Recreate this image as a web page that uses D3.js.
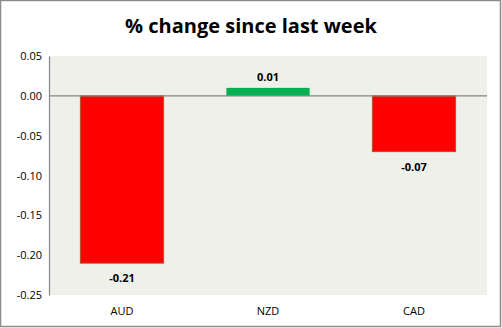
<!DOCTYPE html>
<html>
<head>
<meta charset="utf-8">
<script src="https://cdn.jsdelivr.net/npm/d3@7/dist/d3.min.js"></script>
<style>
  html, body { margin: 0; padding: 0; background: #fff; }
  svg { display: block; }
  text { font-family: "Open Sans", "Noto Sans", sans-serif; fill: #000; }
</style>
</head>
<body>
<svg id="chart" width="502" height="328"></svg>
<script>
// Weekly change per currency
const categories = ["AUD", "NZD", "CAD"];
const values = [-0.21, 0.01, -0.07];
const valueLabels = ["-0.21", "0.01", "-0.07"];
const yTicks = [0.05, 0, -0.05, -0.10, -0.15, -0.20, -0.25];
const title = "% change since last week";

const W = 502, H = 328;
const plot = { left: 49, right: 487, top: 56, bottom: 295 };

const svg = d3.select("#chart");

// outer frame
svg.append("rect")
  .attr("x", 0.5).attr("y", 0.5)
  .attr("width", W - 2).attr("height", H - 2)
  .attr("fill", "#fff").attr("stroke", "#8c8c8c").attr("stroke-width", 1.5);

// title
svg.append("text")
  .attr("x", 251).attr("y", 33)
  .attr("text-anchor", "middle")
  .attr("font-size", 20).attr("font-weight", "bold")
  .text(title);

const x = d3.scaleBand()
  .domain(categories)
  .range([plot.left, plot.right])
  .paddingInner(0.43)
  .paddingOuter(0.215);

const y = d3.scaleLinear()
  .domain([-0.25, 0.05])
  .range([plot.bottom, plot.top]);

// plot area background
svg.append("rect")
  .attr("x", plot.left).attr("y", plot.top)
  .attr("width", plot.right - plot.left).attr("height", plot.bottom - plot.top)
  .attr("fill", "#eef0e9");

// y axis
const yAxis = d3.axisLeft(y)
  .tickValues(yTicks)
  .tickFormat(d3.format(".2f"))
  .tickSize(0)
  .tickPadding(7);

const gy = svg.append("g")
  .attr("transform", `translate(${plot.left},0)`)
  .call(yAxis);
gy.select(".domain").attr("stroke", "#868686").attr("stroke-width", 1.2);
gy.selectAll("text")
  .attr("font-size", 11)
  .attr("font-family", "\"Open Sans\", sans-serif")
  .attr("fill", "#000")
  .text(d => d3.format(".2f")(d).replace("−", "-"));

// bars
svg.append("g").selectAll("rect")
  .data(values)
  .join("rect")
  .attr("x", (d, i) => x(categories[i]))
  .attr("width", x.bandwidth())
  .attr("y", d => y(Math.max(0, d)))
  .attr("height", d => Math.abs(y(d) - y(0)))
  .attr("fill", d => d < 0 ? "#ff0000" : "#00b050")
  .attr("stroke", d => d < 0 ? "#b5502d" : "none")
  .attr("stroke-width", 1);

// zero line
svg.append("line")
  .attr("x1", plot.left).attr("x2", plot.right)
  .attr("y1", y(0)).attr("y2", y(0))
  .attr("stroke", "#868686").attr("stroke-width", 1.2);

// value labels
svg.append("g").selectAll("text")
  .data(values)
  .join("text")
  .attr("x", (d, i) => x(categories[i]) + x.bandwidth() / 2)
  .attr("y", d => d < 0 ? y(d) + 19 : y(d) - 7)
  .attr("text-anchor", "middle")
  .attr("font-size", 11).attr("font-weight", "bold")
  .text((d, i) => valueLabels[i]);

// category axis
const xAxis = d3.axisBottom(x).tickSize(0).tickPadding(12);
const gx = svg.append("g")
  .attr("transform", `translate(0,${plot.bottom})`)
  .call(xAxis);
gx.select(".domain").remove();
gx.selectAll("text")
  .attr("font-size", 11)
  .attr("font-family", "\"Open Sans\", sans-serif")
  .attr("fill", "#000");
</script>
</body>
</html>
